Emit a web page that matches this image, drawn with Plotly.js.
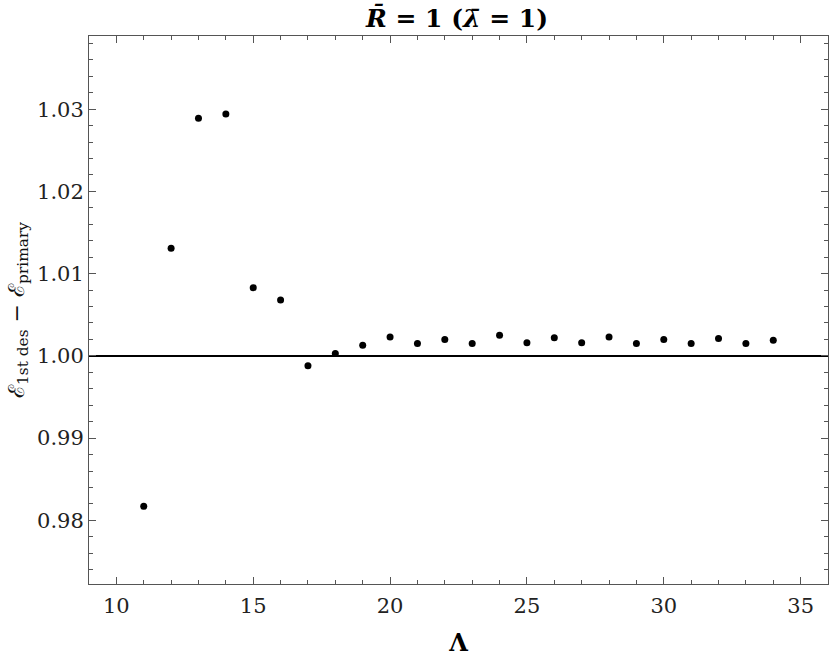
<!DOCTYPE html>
<html>
<head>
<meta charset="utf-8">
<script src="https://cdn.plot.ly/plotly-3.0.1.min.js"></script>
<style>html,body{margin:0;padding:0;background:#fff;}#chart{width:830px;height:666px;}</style>
</head>
<body>
<div id="chart"></div>
<script>
const lambdaVals = [11,12,13,14,15,16,17,18,19,20,21,22,23,24,25,26,27,28,29,30,31,32,33,34];
const energyRatio = [0.9817,1.0131,1.0289,1.0294,1.0083,1.0068,0.9988,1.0003,1.0013,1.0023,1.0015,1.0020,1.0015,1.0025,1.0016,1.0022,1.0016,1.0023,1.0015,1.0020,1.0015,1.0021,1.0015,1.0019];
const referenceLevel = 1.0;
const titleText = "<b><i>R̄</i> = 1 (<i>λ̄</i> = 1)</b>";
const xTitle = "<b>Λ</b>";
const yTitle = "ℰ<sub>1st des</sub> − ℰ<sub>primary</sub>";

const font = "DejaVu Serif";
const axisCommon = {
  showline: true, linecolor: "#555", linewidth: 1, mirror: "allticks",
  ticks: "inside", ticklen: 7, tickcolor: "#555", tickwidth: 1,
  showgrid: false, zeroline: false,
  tickfont: {family: font, size: 21, color: "#222"}
};
const data = [
  {x: lambdaVals, y: energyRatio, type: "scatter", mode: "markers",
   marker: {color: "#000", size: 7}, hoverinfo: "x+y"}
];
const layout = {
  width: 830, height: 666,
  margin: {l: 89, r: 2, t: 36, b: 82},
  paper_bgcolor: "#fff", plot_bgcolor: "#fff",
  showlegend: false,
  font: {family: font},
  title: {text: titleText, x: 0.5506, xanchor: "center", y: 0.973, yanchor: "middle",
          font: {family: font, size: 25, color: "#000"}},
  xaxis: Object.assign({}, axisCommon, {
    range: [9, 36], tickmode: "linear", tick0: 10, dtick: 5,
    ticklabelstandoff: 3,
    minor: {dtick: 1, tick0: 10, ticklen: 4, ticks: "inside", tickcolor: "#555"},
    title: {text: xTitle, font: {family: font, size: 24, color: "#000"}, standoff: 16}
  }),
  yaxis: Object.assign({}, axisCommon, {
    range: [0.97226, 1.0389], tickmode: "linear", tick0: 1.0, dtick: 0.01,
    tickformat: ".2f",
    minor: {dtick: 0.002, tick0: 1.0, ticklen: 4, ticks: "inside", tickcolor: "#555"},
    title: {text: yTitle, font: {family: font, size: 22, color: "#111"}, standoff: 6}
  }),
  shapes: [
    {type: "line", xref: "paper", x0: 0, x1: 1, yref: "y", y0: referenceLevel, y1: referenceLevel,
     line: {color: "#000", width: 2}, layer: "below"}
  ]
};
Plotly.newPlot("chart", data, layout, {staticPlot: true});
</script>
</body>
</html>
